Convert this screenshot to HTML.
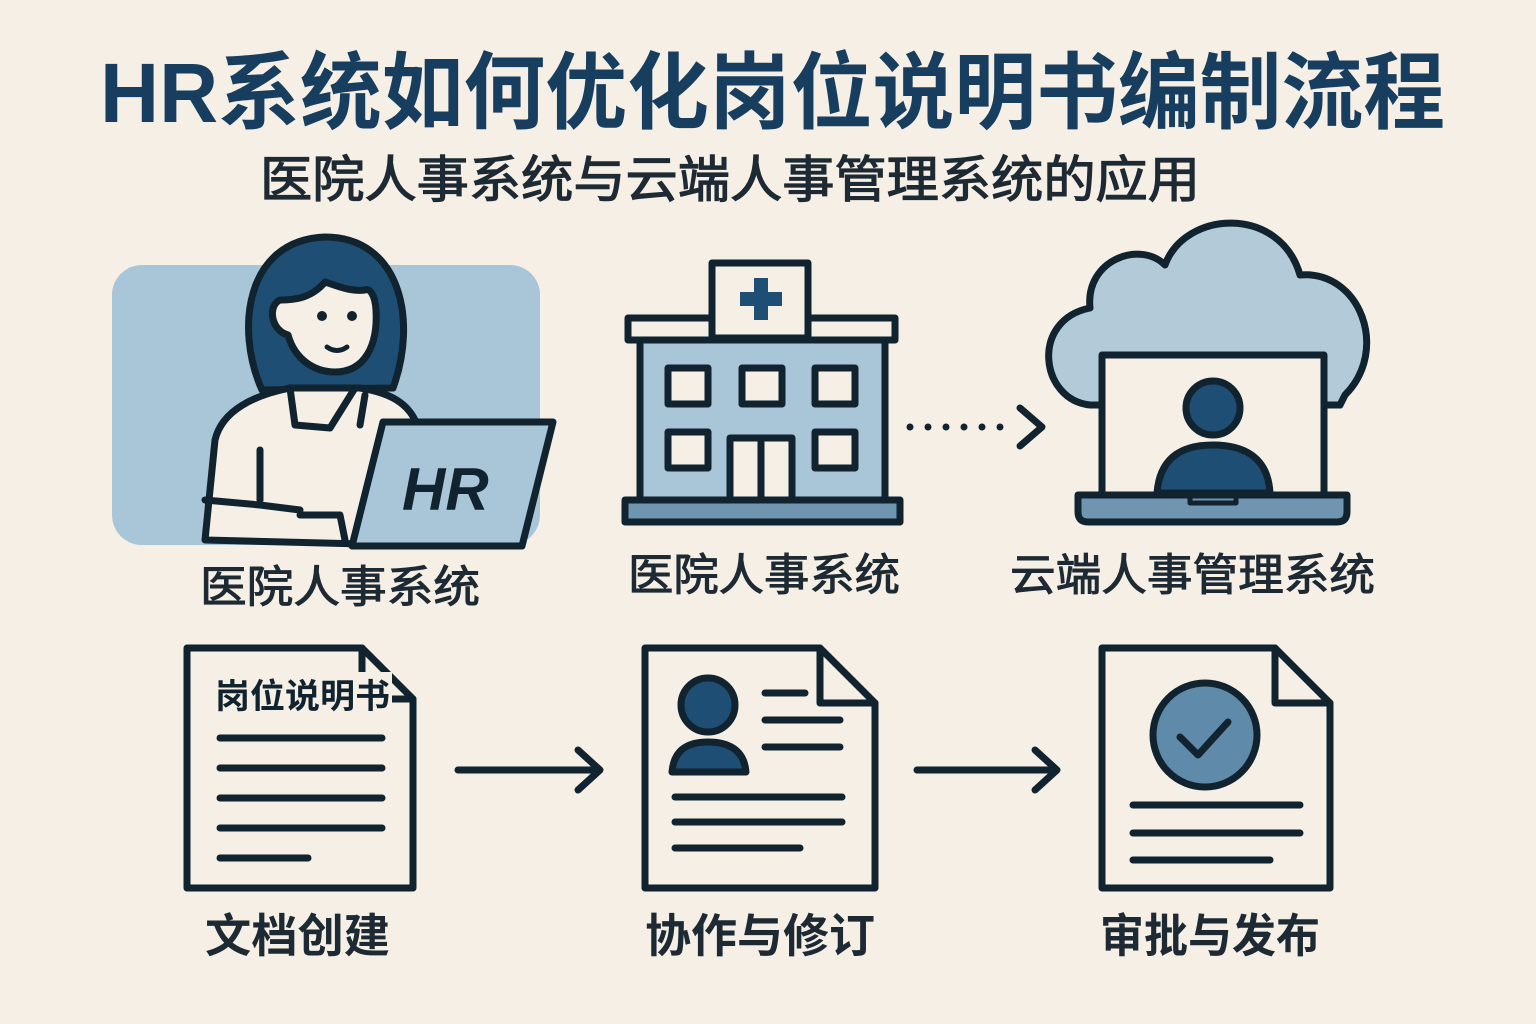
<!DOCTYPE html>
<html><head><meta charset="utf-8"><style>
html,body{margin:0;padding:0;background:#f5efe6;}
svg{display:block}
text{font-family:"Liberation Sans","Noto Sans CJK SC",sans-serif;}
</style></head><body>
<svg width="1536" height="1024" viewBox="0 0 1536 1024" xmlns="http://www.w3.org/2000/svg">
<rect width="1536" height="1024" fill="#f5efe6"/>
<text x="100" y="122" font-size="84" font-weight="bold" fill="#173e5e" textLength="1345" lengthAdjust="spacingAndGlyphs">HR系统如何优化岗位说明书编制流程</text>
<text x="260" y="197" font-size="50" fill="#1e2a33" stroke="#1e2a33" stroke-width="1.2" textLength="940" lengthAdjust="spacingAndGlyphs">医院人事系统与云端人事管理系统的应用</text>

<g stroke="#10232f" stroke-width="7" stroke-linejoin="round" stroke-linecap="round">
<rect x="112" y="265" width="428" height="280" rx="30" fill="#a9c6d8" stroke="none"/>
<path d="M262,390 C235,330 245,240 325,237 C400,237 418,320 393,388 Z" fill="#1f4e74"/>
<path d="M205,540 L215,440 C222,410 255,395 290,388 L360,388 C385,392 405,400 415,420 L400,545 Z" fill="#f5efe6"/>
<path d="M290,388 L295,425 L330,428 L355,388" fill="none"/>
<path d="M365,395 L360,425" fill="none"/>
<path d="M260,450 L260,500" fill="none"/>
<path d="M205,500 L260,505 L300,510" fill="none"/>
<path d="M300,515 L340,515 L345,540" fill="#f5efe6"/>
<path d="M325,282 C310,300 290,300 280,300 C268,305 270,330 288,335 C295,360 315,372 335,372 C365,372 378,345 376,310 C375,295 370,288 365,290 C350,292 335,285 325,282 Z" fill="#f5efe6"/>
<circle cx="322" cy="316" r="5" fill="#10232f" stroke="none"/>
<circle cx="352" cy="316" r="5" fill="#10232f" stroke="none"/>
<path d="M327,347 Q337,354 347,347" fill="none" stroke-width="5"/>
<path d="M383,422 L553,422 L522,546 L352,546 Z" fill="#a9c6d8"/>
</g>
<text x="402" y="510" font-size="60" font-weight="bold" font-style="italic" fill="#10232f">HR</text>
<text x="200" y="602" font-size="44" fill="#1e2a33" stroke="#1e2a33" stroke-width="1" textLength="280" lengthAdjust="spacingAndGlyphs">医院人事系统</text>

<g stroke="#10232f" stroke-width="7" stroke-linejoin="round">
<rect x="640" y="338" width="245" height="162" fill="#a9c6d8"/>
<rect x="628" y="318" width="267" height="22" fill="#f5efe6"/>
<rect x="712" y="263" width="96" height="75" fill="#f5efe6"/>
<rect x="668" y="368" width="40" height="36" fill="#f5efe6"/>
<rect x="742" y="368" width="40" height="36" fill="#f5efe6"/>
<rect x="815" y="368" width="40" height="36" fill="#f5efe6"/>
<rect x="668" y="432" width="40" height="36" fill="#f5efe6"/>
<rect x="815" y="432" width="40" height="36" fill="#f5efe6"/>
<rect x="730" y="438" width="62" height="62" fill="#f5efe6"/>
<line x1="761" y1="438" x2="761" y2="500"/>
<rect x="625" y="500" width="275" height="22" fill="#6f95b0"/>
</g>
<path d="M754,278 h14 v14 h14 v14 h-14 v14 h-14 v-14 h-14 v-14 h14 Z" fill="#1f4e74"/>
<text x="628" y="590" font-size="44" fill="#1e2a33" stroke="#1e2a33" stroke-width="1" textLength="272" lengthAdjust="spacingAndGlyphs">医院人事系统</text>

<line x1="910" y1="427" x2="1010" y2="427" stroke="#10232f" stroke-width="7" stroke-linecap="round" stroke-dasharray="0 18"/>
<path d="M1020,408 L1042,427 L1020,446" fill="none" stroke="#10232f" stroke-width="7" stroke-linecap="round" stroke-linejoin="round"/>

<g stroke="#10232f" stroke-width="7" stroke-linejoin="round">
<path d="M1090,405 C1040,400 1030,320 1090,308 C1085,260 1140,240 1165,265 C1185,210 1280,205 1300,275 C1360,270 1390,350 1345,395 L1340,405 Z" fill="#b3cbd9"/>
<rect x="1102" y="355" width="222" height="140" fill="#f5efe6"/>
<circle cx="1213" cy="408" r="27" fill="#1f4e74"/>
<path d="M1157,493 C1160,455 1185,445 1213,445 C1241,445 1268,455 1270,493 Z" fill="#1f4e74"/>
<path d="M1078,495 L1347,495 L1347,512 Q1347,522 1337,522 L1088,522 Q1078,522 1078,512 Z" fill="#6f95b0"/>
<path d="M1190,495 L1190,503 L1236,503 L1236,495" fill="none" stroke-width="5"/>
</g>
<text x="1010" y="590" font-size="44" fill="#1e2a33" stroke="#1e2a33" stroke-width="1" textLength="365" lengthAdjust="spacingAndGlyphs">云端人事管理系统</text>

<g stroke="#10232f" stroke-width="7" stroke-linejoin="round" stroke-linecap="round" fill="#f5efe6">
<path d="M187,648 L362,648 L413,699 L413,888 L187,888 Z"/>
<path d="M362,648 L362,699 L413,699" fill="none"/>
<line x1="220" y1="738" x2="382" y2="738"/><line x1="220" y1="768" x2="382" y2="768"/>
<line x1="220" y1="798" x2="382" y2="798"/><line x1="220" y1="828" x2="382" y2="828"/>
<line x1="220" y1="858" x2="308" y2="858"/>

<path d="M645,648 L820,648 L875,703 L875,888 L645,888 Z"/>
<path d="M820,648 L820,703 L875,703" fill="none"/>
<circle cx="708" cy="705" r="27" fill="#1f4e74"/>
<path d="M672,772 C674,748 690,742 708,742 C726,742 744,748 746,772 Z" fill="#1f4e74"/>
<line x1="765" y1="693" x2="805" y2="693"/><line x1="765" y1="720" x2="840" y2="720"/>
<line x1="765" y1="747" x2="840" y2="747"/>
<line x1="675" y1="797" x2="842" y2="797"/><line x1="675" y1="822" x2="842" y2="822"/>
<line x1="675" y1="848" x2="800" y2="848"/>

<path d="M1102,648 L1275,648 L1330,703 L1330,888 L1102,888 Z"/>
<path d="M1275,648 L1275,703 L1330,703" fill="none"/>
<circle cx="1205" cy="735" r="52" fill="#5f8aaa"/>
<path d="M1180,737 L1198,755 L1228,722" fill="none"/>
<line x1="1133" y1="805" x2="1300" y2="805"/><line x1="1133" y1="833" x2="1300" y2="833"/>
<line x1="1133" y1="860" x2="1270" y2="860"/>

<line x1="458" y1="770" x2="598" y2="770" fill="none"/>
<path d="M578,750 L600,770 L578,790" fill="none"/>
<line x1="917" y1="770" x2="1055" y2="770" fill="none"/>
<path d="M1035,750 L1057,770 L1035,790" fill="none"/>
</g>
<rect x="352" y="672" width="40" height="44" fill="#f5efe6"/>
<text x="215" y="708" font-size="34" font-weight="bold" fill="#10232f" textLength="175" lengthAdjust="spacingAndGlyphs">岗位说明书</text>

<text x="205" y="952" font-size="46" font-weight="bold" fill="#1e2a33" textLength="185" lengthAdjust="spacingAndGlyphs">文档创建</text>
<text x="645" y="952" font-size="46" font-weight="bold" fill="#1e2a33" textLength="230" lengthAdjust="spacingAndGlyphs">协作与修订</text>
<text x="1100" y="952" font-size="46" font-weight="bold" fill="#1e2a33" textLength="220" lengthAdjust="spacingAndGlyphs">审批与发布</text>
</svg>
</body></html>
